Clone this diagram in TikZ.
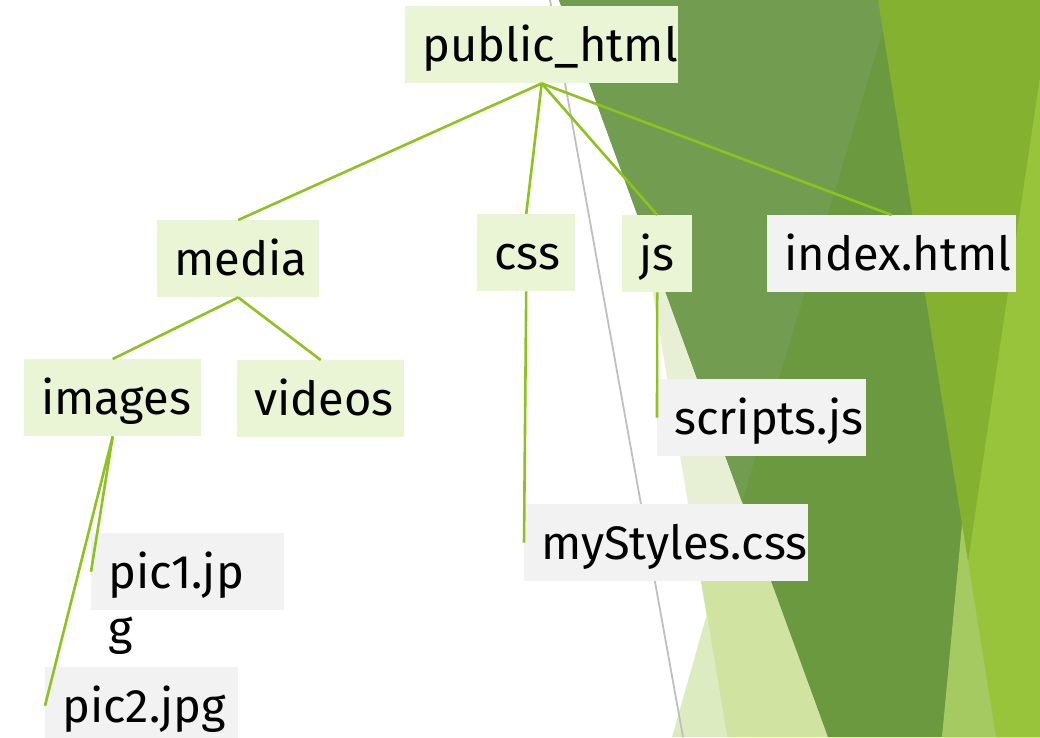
\documentclass[tikz,border=0pt]{standalone}
\usepackage{fontspec}
\setmainfont{Fira Sans}
\definecolor{boxgreen}{HTML}{E9F5D4}
\definecolor{boxgrey}{HTML}{F2F2F2}
\definecolor{linkgreen}{HTML}{8DC21F}
\definecolor{paleleaf}{HTML}{E7F0D5}
\definecolor{lightleaf}{HTML}{D0E3A0}
\definecolor{mistleaf}{HTML}{DDEBC0}
\definecolor{darkleaf}{HTML}{6A993F}
\definecolor{midleaf}{HTML}{729C50}
\definecolor{limeleaf}{HTML}{84B230}
\definecolor{brightleaf}{HTML}{97C43A}
\definecolor{softlime}{HTML}{A5CA62}
\hyphenpenalty=10000
\begin{document}
\begin{tikzpicture}[x=1pt,y=-1pt,
  folder/.style={anchor=north west,fill=boxgreen,inner xsep=17pt,inner ysep=0pt,
    text height=55pt,text depth=22pt,align=left,font=\fontsize{47}{58}\selectfont},
  file/.style={folder,fill=boxgrey},
  link/.style={draw=linkgreen,line width=2.6pt}]
\useasboundingbox (0,0) rectangle (1040,737);
% background facets
\fill[paleleaf] (604,0) -- (727,737) -- (1040,737) -- (1040,0) -- cycle;
\fill[lightleaf] (697.5,560) -- (727,737) -- (1040,737) -- (1040,560) -- cycle;
\fill[mistleaf] (707,614) -- (672,737) -- (727,737) -- cycle;
\fill[darkleaf] (559,0) -- (828,737) -- (1040,737) -- (1040,0) -- cycle;
\fill[midleaf] (559,0) -- (892,0) -- (742,502) -- cycle;
\fill[limeleaf] (878,0) -- (1040,0) -- (1040,737) -- (996,737) -- cycle;
\fill[brightleaf] (1040,77) -- (942,737) -- (1040,737) -- cycle;
\fill[softlime] (962,524) -- (942,737) -- (996,737) -- cycle;
\draw[black!25,line width=1.8pt] (550,0) -- (683,737);
% folders
\node[folder,text width=239pt] (pub) at (405,6) {public\_html};
\node[folder,text width=128pt] (media) at (157,220) {media};
\node[folder,text width=64pt] (css) at (477,214) {css};
\node[folder,text width=36pt] (js) at (622,215) {js};
\node[folder,text width=143pt] (images) at (24,359) {images};
\node[folder,text width=133pt] (videos) at (237,360) {videos};
% files
\node[file,text width=215pt] (index) at (767,215) {index.html};
\node[file,text width=175pt] (scripts) at (657,379) {scripts.js};
\node[file,text width=250pt] (mystyles) at (524,504) {myStyles.css};
\node[file,text width=159pt,
  label={[anchor=base west,inner sep=0pt,xshift=17pt,yshift=-34pt,font=\fontsize{47}{58}\selectfont]south west:g}]
  (pic1) at (91,533) {pic1.jp};
\node[file,text width=159pt] (pic2) at (45,667) {pic2.jpg};
% links
\foreach \kid in {media,css,js,index}{\draw[link] (pub.south) -- (\kid.north);}
\foreach \kid in {images,videos}{\draw[link] (media.south) -- (\kid.north);}
\foreach \kid in {pic1,pic2}{\draw[link] (images.south) -- (\kid.west);}
\draw[link] (css.south) -- (mystyles.west);
\draw[link] (js.south) -- (scripts.west);
\end{tikzpicture}
\end{document}
